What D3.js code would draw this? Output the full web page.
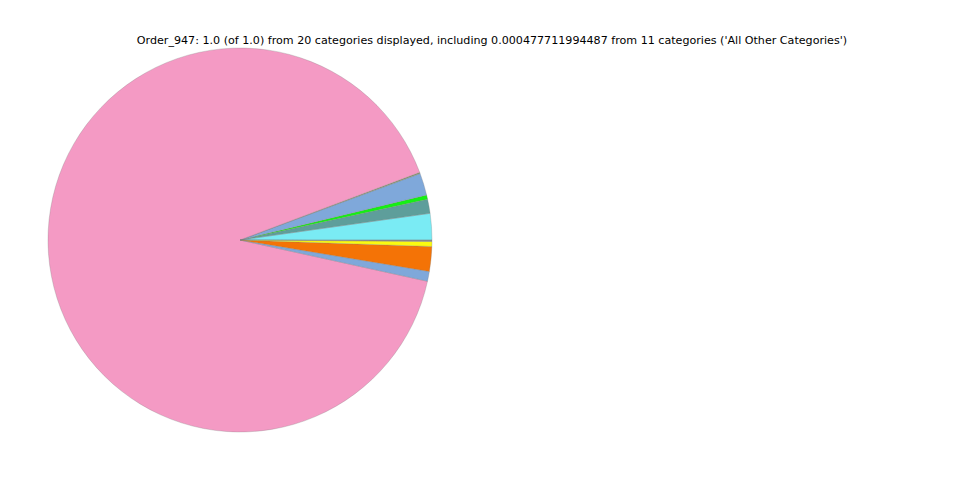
<!DOCTYPE html>
<html>
<head>
<meta charset="utf-8">
<script src="https://cdn.jsdelivr.net/npm/d3@7"></script>
<style>
  body { margin: 0; background: #fff; }
  svg { display: block; }
</style>
</head>
<body>
<svg id="chart" width="960" height="480"></svg>
<script>
const categories = ["Cat_A", "Cat_B", "Cat_C", "Cat_D", "Cat_E", "Cat_F", "Cat_G", "Cat_H", "Cat_I", "All Other Categories"];
const values = [0.0222, 0.0119, 0.0036, 0.0186, 0.0010, 0.9082, 0.0083, 0.0208, 0.0042, 0.0012];
const colors = ["#7aebf4", "#5e9e9b", "#14f014", "#7fa8da", "#8a9a70", "#f49ac4", "#7fa8da", "#f47306", "#fbfb10", "#8c8c8c"];
const titleText = "Order_947: 1.0 (of 1.0) from 20 categories displayed, including 0.000477711994487 from 11 categories ('All Other Categories')";

const svg = d3.select("#chart");
const cx = 240, cy = 240, r = 192;

const data = categories.map((c, i) => ({ name: c, value: values[i], color: colors[i] }));

// Matplotlib-style: start at 3 o'clock, go counter-clockwise
const pie = d3.pie().value(d => d.value).sort(null)
  .startAngle(Math.PI / 2).endAngle(Math.PI / 2 - 2 * Math.PI);
const arc = d3.arc().innerRadius(0).outerRadius(r);

svg.append("g").attr("transform", `translate(${cx},${cy})`)
  .selectAll("path").data(pie(data)).join("path")
  .attr("d", arc)
  .attr("fill", d => d.data.color)
  .attr("stroke", "#7f7f7f")
  .attr("stroke-width", 0.4)
  .attr("stroke-opacity", 0.7);

svg.append("text")
  .attr("x", 492).attr("y", 43.5)
  .attr("text-anchor", "middle")
  .attr("font-family", "DejaVu Sans, sans-serif")
  .attr("font-size", 11.12)
  .attr("fill", "#000")
  .text(titleText);
</script>
</body>
</html>
